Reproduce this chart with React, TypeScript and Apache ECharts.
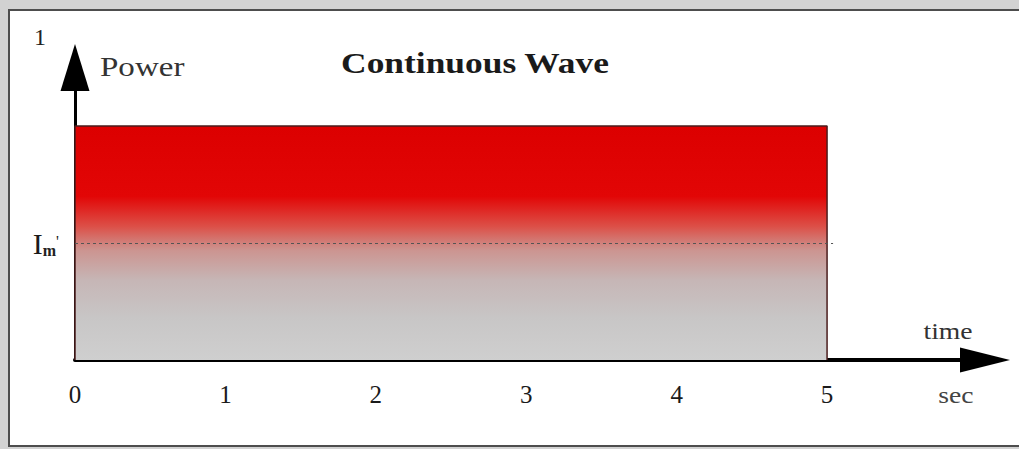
import React, { useEffect, useRef } from "react";
import * as echarts from "echarts";

// ---- data ----
const timeTicks = [0, 1, 2, 3, 4, 5];
const pulseStart = 0;
const pulseEnd = 5;
const peakPower = 1;
const meanPower = 0.5;
const xMax = 6.05;
const yMax = 1.25;
const titleText = "Continuous Wave";
const yName = "Power";
const yTopLabel = "1";
const xNameTop = "time";
const xNameBottom = "sec";

const serif = "Liberation Serif";

export default function App() {
  const ref = useRef<HTMLDivElement>(null);
  useEffect(() => {
    const chart = echarts.init(ref.current!, null, { renderer: "svg" });
    const pulseData = [
      [pulseStart, 0],
      [pulseStart, peakPower],
      [pulseEnd, peakPower],
      [pulseEnd, 0],
    ];
    chart.setOption({
      animation: false,
      backgroundColor: "transparent",
      grid: { left: 75, right: 34, top: 67.5, bottom: 89 },
      xAxis: {
        type: "value",
        min: 0,
        max: xMax,
        interval: 1,
        axisLine: {
          show: true,
          symbol: ["none", "triangle"],
          symbolSize: [25, 50],
          lineStyle: { color: "#000", width: 4 },
        },
        axisTick: { show: false },
        splitLine: { show: false },
        axisLabel: {
          margin: 22,
          fontFamily: serif,
          fontSize: 25,
          color: "#1a1a1a",
          formatter: (v: number) => (timeTicks.indexOf(v) >= 0 ? String(v) : ""),
        },
      },
      yAxis: {
        type: "value",
        min: 0,
        max: yMax,
        axisLine: {
          show: true,
          symbol: ["none", "triangle"],
          symbolSize: [29, 47],
          lineStyle: { color: "#000", width: 3 },
        },
        axisTick: { show: false },
        splitLine: { show: false },
        axisLabel: { show: false },
      },
      graphic: [
        {
          type: "text",
          x: 40,
          y: 37,
          style: { text: yTopLabel, font: `24px "${serif}"`, fill: "#222", textAlign: "center", textVerticalAlign: "middle" },
        },
        {
          type: "text",
          x: 100,
          y: 67,
          scaleX: 1.18,
          style: { text: yName, font: `28px "${serif}"`, fill: "#333", textAlign: "left", textVerticalAlign: "middle" },
        },
        {
          type: "text",
          x: 475,
          y: 63,
          scaleX: 1.18,
          style: { text: titleText, font: `bold 30px "${serif}"`, fill: "#1a1a1a", textAlign: "center", textVerticalAlign: "middle" },
        },
        {
          type: "text",
          x: 948,
          y: 331,
          scaleX: 1.15,
          style: { text: xNameTop, font: `24px "${serif}"`, fill: "#333", textAlign: "center", textVerticalAlign: "middle" },
        },
        {
          type: "text",
          x: 956,
          y: 395,
          scaleX: 1.15,
          style: { text: xNameBottom, font: `24px "${serif}"`, fill: "#444", textAlign: "center", textVerticalAlign: "middle" },
        },
      ],
      series: [
        {
          type: "line",
          data: pulseData,
          symbol: "none",
          silent: true,
          lineStyle: { color: "#4a1c1c", width: 1.5 },
          areaStyle: {
            opacity: 1,
            color: new echarts.graphic.LinearGradient(0, 0, 0, 1, [
              { offset: 0, color: "#dc0000" },
              { offset: 0.3, color: "#e20606" },
              { offset: 0.43, color: "#dc5048" },
              { offset: 0.53, color: "#cc9490" },
              { offset: 0.66, color: "#c6b6b6" },
              { offset: 0.82, color: "#c8c6c6" },
              { offset: 1, color: "#cfcfcf" },
            ]),
          },
          markLine: {
            silent: true,
            symbol: "none",
            lineStyle: { color: "#555", type: [3, 3], width: 1 },
            label: {
              show: true,
              position: "start",
              distance: 16,
              formatter: "I{s|m}{p|'}",
              fontFamily: serif,
              fontSize: 30,
              color: "#1a1a1a",
              rich: {
                s: { fontFamily: serif, fontSize: 16, color: "#222", fontWeight: "bold", verticalAlign: "bottom", padding: [12, 0, 0, 0] },
                p: { fontFamily: serif, fontSize: 16, color: "#222", padding: [0, 0, 4, 0] },
              },
            },
            data: [
              [
                { coord: [pulseStart, meanPower] },
                { coord: [pulseEnd + 0.04, meanPower] },
              ],
            ],
          },
        },
      ],
    });
    return () => chart.dispose();
  }, []);

  return (
    <div style={{ position: "fixed", left: 0, top: 0, width: 1019, height: 449, background: "#d2d2d2", overflow: "hidden" }}>
      <div
        style={{
          position: "absolute",
          left: 8,
          top: 9,
          width: 1030,
          height: 434,
          background: "#fff",
          border: "2px solid #4d4d4d",
        }}
      />
      <div ref={ref} style={{ position: "absolute", left: 0, top: 0, width: 1019, height: 449 }} />
    </div>
  );
}
